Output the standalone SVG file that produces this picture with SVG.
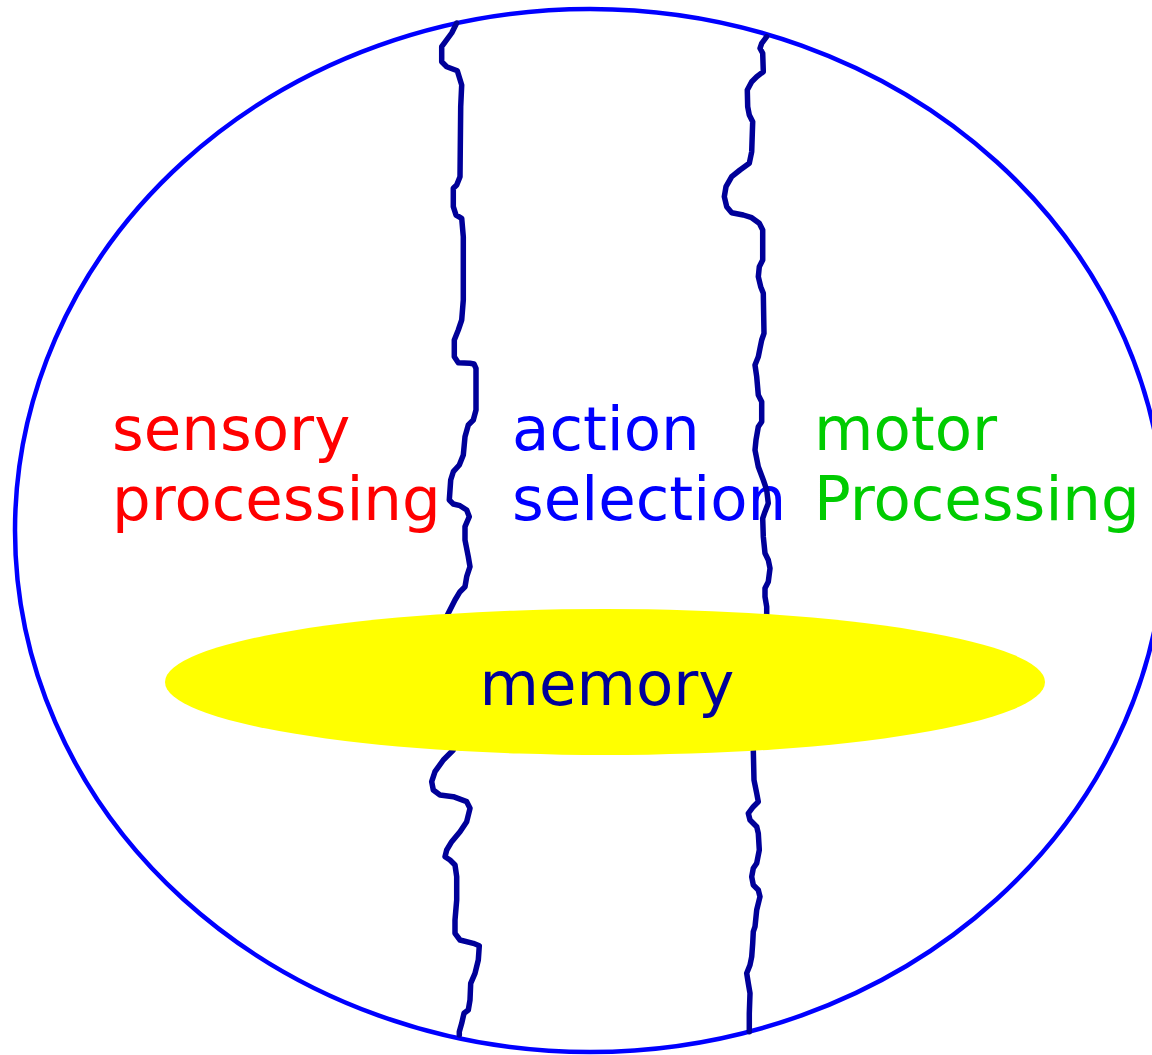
<svg xmlns="http://www.w3.org/2000/svg" width="1152" height="1055" viewBox="0 0 1152 1055">
  <style>
    .label { font-family: "DejaVu Sans", Verdana, sans-serif; font-size: 61px; }
    .border { fill: none; stroke: #0000ff; stroke-width: 4.5; }
    .divider { fill: none; stroke: #000099; stroke-width: 5.5; stroke-linejoin: round; stroke-linecap: round; }
  </style>
  <rect width="1152" height="1055" fill="#ffffff"/>

  <!-- brain outline -->
  <g id="brain">
    <ellipse class="border" cx="590" cy="530.5" rx="575" ry="521.5"/>
  </g>

  <!-- region labels -->
  <g id="sensory">
    <text class="label" x="112" y="450" fill="#ff0000">sensory</text>
    <text class="label" x="112" y="520" fill="#ff0000">processing</text>
  </g>
  <g id="action">
    <text class="label" x="512" y="450" fill="#0000ff">action</text>
    <text class="label" x="512" y="520" fill="#0000ff">selection</text>
  </g>
  <g id="motor">
    <text class="label" x="814" y="450" fill="#00cc00">motor</text>
    <text class="label" x="814" y="520" fill="#00cc00">Processing</text>
  </g>

  <!-- boundaries between regions -->
  <g id="connectors">
    <path class="divider" d="M456.7,23 L451.7,33 L441.7,46.7 L441.7,61.7 L446.7,66.7 L457.3,70.7 L461.7,85 L460.7,106.7 L460,176.7 L456.7,185 L453.3,188.3 L453.3,206.7 L456,215 L461.7,218.3 L463.3,236.7 L463.3,300 L461.7,320 L458.3,330 L454.3,340 L454.3,356.7 L458.3,362.7 L470,363.3 L474,364 L476,368.3 L476,410 L473.3,420 L468.3,425 L465,436.7 L463.3,455 L459.3,465 L453.3,471.7 L450.7,480 L449.3,500 L453.3,504 L460,505.7 L466.7,510 L469.3,516.7 L465,526.7 L465,540 L468.3,556.7 L470,566.7 L466.7,576.7 L465,586.7 L460,591.7 L455,600 L448.3,613.3 L440,630 L440,700 L453.3,750 L443.3,760 L435,771.7 L431.7,781.7 L433.3,790 L440,795 L453.3,796.7 L466.7,801.7 L470,808.3 L466.7,821.7 L460,831.7 L451.7,841.7 L446.7,850 L445,856.7 L450,860 L455,865 L456.7,876.7 L456.7,900 L455,920 L455,933.3 L460,940 L473.3,943.3 L479.3,945.7 L478.3,960 L475,973.3 L470.7,983.3 L470,1000 L468.3,1010 L464,1013.3 L461.7,1023.3 L459.3,1031.7 L459.3,1035"/>
    <path class="divider" d="M766.7,36.7 L761.7,43.3 L760,48.3 L762.7,53.3 L763.3,71.7 L756.7,76.7 L751.7,81.7 L747.3,90 L747.7,106.7 L749.3,115 L752.7,121.7 L751.7,151.7 L749.3,163.3 L740,170 L731.7,176.7 L726,186.7 L724.3,196.7 L726.7,206.7 L731.7,212.7 L743.3,215 L751.7,217.7 L759.3,223.3 L762.7,230 L762.7,260 L759.3,266.7 L758.3,276.7 L760.7,286.7 L763.3,293.3 L764,333.3 L761.7,340 L760,348.3 L758.3,356.7 L755,365 L756.7,376.7 L758.3,395 L761.7,401.7 L761.7,421.7 L758.3,426.7 L756,440 L755,450 L758.3,466.7 L763.3,480 L766.7,490 L768.3,503.3 L765,511.7 L762.7,518.3 L763.3,536.7 L765,553.3 L768.3,560 L770,568.3 L768.3,581.7 L765,588.3 L765,596.7 L766.7,606.7 L766.7,613.3 L762,680 L753.3,750 L754,780 L756.7,793.3 L758.3,801.7 L753.3,806.7 L748.3,813.3 L750,820 L756.7,826.7 L758.3,833.3 L759.3,850 L756.7,863.3 L753.3,868.3 L751.7,876.7 L753.3,885 L758.3,890 L760,896.7 L756.7,910 L755,926.7 L753.3,931.7 L752.7,943.3 L751.7,956.7 L750,965 L746.7,973.3 L748.3,983.3 L750,993.3 L749.3,1013.3 L749.3,1031.7"/>
  </g>

  <!-- memory band across all regions -->
  <g id="memory">
    <ellipse cx="605" cy="682" rx="440" ry="73" fill="#ffff00"/>
    <text class="label" x="607" y="705" fill="#000099" text-anchor="middle">memory</text>
  </g>
</svg>
